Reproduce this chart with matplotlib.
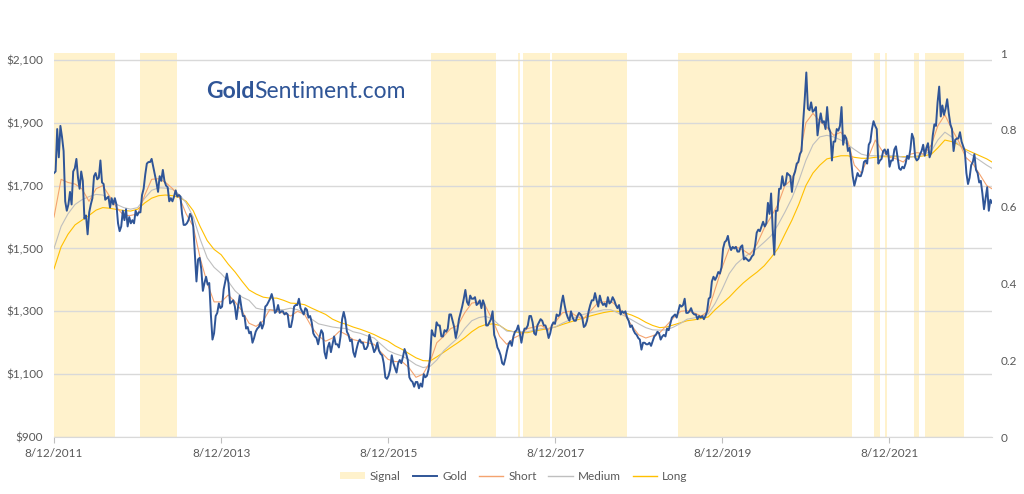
import matplotlib
matplotlib.use("Agg")
import matplotlib.pyplot as plt
import matplotlib.dates as mdates
import pandas as pd
from matplotlib.patches import Patch
from matplotlib.lines import Line2D
from matplotlib.ticker import FuncFormatter, FixedLocator

plt.rcParams['font.family'] = ['Lato', 'DejaVu Sans']

# ---------------- data ----------------
gold_start = '2011-08-12'   # weekly closes (Fridays)
gold_2011 = [1740, 1745, 1880, 1790, 1890, 1855, 1810, 1650, 1620, 1640, 1680, 1640, 1745, 1755,
             1785, 1725, 1690, 1745, 1715, 1595, 1605, 1545]
gold_2012 = [1615, 1640, 1660, 1730, 1740, 1720, 1725, 1780, 1710, 1705, 1655, 1660, 1665,
             1630, 1660, 1640, 1660, 1640, 1580, 1555, 1570, 1620, 1590, 1625, 1570, 1600,
             1580, 1590, 1580, 1620, 1605, 1615, 1615, 1670, 1690, 1735, 1770, 1775, 1775,
             1785, 1760, 1735, 1710, 1680, 1730, 1715, 1750, 1715, 1700, 1695, 1650, 1660]
gold_2013 = [1650, 1665, 1685, 1665, 1670, 1665, 1610, 1575, 1575, 1580, 1590, 1610, 1600,
             1570, 1480, 1395, 1465, 1470, 1435, 1365, 1390, 1410, 1385, 1390, 1290, 1210,
             1230, 1285, 1295, 1325, 1310, 1315, 1370, 1395, 1420, 1390, 1325, 1330, 1335,
             1315, 1275, 1315, 1350, 1315, 1285, 1285, 1245, 1250, 1230, 1235, 1200, 1215]
gold_2014 = [1235, 1245, 1250, 1265, 1245, 1260, 1315, 1320, 1330, 1340, 1355, 1335, 1295,
             1300, 1320, 1295, 1300, 1300, 1290, 1295, 1290, 1250, 1250, 1275, 1315, 1320,
             1320, 1340, 1310, 1300, 1290, 1310, 1305, 1280, 1285, 1265, 1230, 1220, 1215,
             1195, 1220, 1240, 1230, 1170, 1150, 1185, 1200, 1170, 1195, 1220, 1195, 1195]
gold_2015 = [1185, 1220, 1275, 1298, 1275, 1235, 1225, 1205, 1210, 1170, 1155, 1180, 1200,
             1210, 1200, 1200, 1180, 1180, 1190, 1225, 1205, 1190, 1170, 1180, 1200, 1175,
             1165, 1160, 1135, 1090, 1085, 1095, 1115, 1160, 1135, 1120, 1105, 1135, 1145,
             1135, 1155, 1180, 1165, 1145, 1090, 1080, 1075, 1060, 1075, 1075, 1055, 1070]
gold_2016 = [1060, 1100, 1090, 1095, 1115, 1155, 1240, 1225, 1220, 1265, 1255, 1255, 1220,
             1220, 1240, 1235, 1245, 1290, 1290, 1270, 1250, 1215, 1240, 1275, 1295, 1315,
             1340, 1368, 1330, 1320, 1350, 1340, 1340, 1345, 1320, 1325, 1335, 1310, 1335,
             1320, 1255, 1255, 1265, 1275, 1300, 1225, 1210, 1185, 1175, 1160, 1135, 1130, 1150]
gold_2017 = [1175, 1195, 1205, 1190, 1220, 1235, 1240, 1255, 1230, 1200, 1230, 1245, 1245,
             1255, 1285, 1285, 1265, 1230, 1225, 1255, 1265, 1275, 1270, 1255, 1255, 1240,
             1215, 1230, 1255, 1265, 1260, 1290, 1285, 1290, 1325, 1350, 1320, 1295, 1280,
             1270, 1300, 1280, 1270, 1270, 1285, 1295, 1290, 1280, 1250, 1255, 1270, 1300]
gold_2018 = [1320, 1335, 1335, 1358, 1335, 1315, 1350, 1330, 1320, 1325, 1315, 1345, 1325,
             1330, 1345, 1335, 1320, 1310, 1320, 1290, 1300, 1295, 1300, 1280, 1270, 1250,
             1255, 1240, 1230, 1225, 1215, 1210, 1178, 1200, 1200, 1195, 1195, 1200, 1190,
             1205, 1220, 1225, 1235, 1230, 1210, 1220, 1225, 1220, 1245, 1240, 1260, 1280]
gold_2019 = [1285, 1290, 1280, 1300, 1320, 1315, 1320, 1340, 1295, 1295, 1300, 1310, 1295,
             1290, 1290, 1275, 1285, 1280, 1285, 1275, 1285, 1300, 1340, 1345, 1395, 1410,
             1400, 1410, 1425, 1420, 1440, 1500, 1520, 1525, 1540, 1510, 1495, 1505, 1500,
             1505, 1490, 1490, 1505, 1510, 1465, 1470, 1465, 1460, 1465, 1475, 1480, 1510]
gold_2020 = [1550, 1560, 1555, 1570, 1585, 1570, 1580, 1645, 1610, 1675, 1560, 1480, 1620,
             1620, 1690, 1690, 1730, 1700, 1705, 1740, 1735, 1730, 1680, 1730, 1745, 1770,
             1775, 1800, 1810, 1900, 1975, 2060, 1945, 1940, 1965, 1935, 1940, 1950, 1860,
             1900, 1930, 1900, 1905, 1880, 1950, 1885, 1870, 1780, 1840, 1840, 1880, 1875]
gold_2021 = [1890, 1950, 1830, 1860, 1850, 1810, 1820, 1780, 1730, 1700, 1720, 1740, 1730,
             1730, 1745, 1775, 1780, 1770, 1830, 1840, 1880, 1905, 1890, 1880, 1770, 1780,
             1785, 1810, 1815, 1800, 1815, 1760, 1780, 1780, 1815, 1825, 1790, 1755, 1750,
             1760, 1755, 1770, 1795, 1785, 1815, 1865, 1850, 1790, 1780, 1785, 1800, 1810, 1830]
gold_2022 = [1795, 1820, 1835, 1790, 1805, 1860, 1895, 1890, 1965, 2015, 1920, 1955, 1925,
             1945, 1975, 1930, 1895, 1880, 1810, 1845, 1850, 1850, 1870, 1840, 1825, 1810,
             1740, 1705, 1725, 1765, 1775, 1800, 1750, 1740, 1710, 1715, 1675, 1625, 1660,
             1695, 1620, 1655, 1645]

ma_start = '2011-08-12'     # monthly readings of the moving averages
ma_last_date = '2022-11-04'
short_ma = [1600, 1720, 1710, 1705, 1690, 1650, 1690, 1700, 1665, 1630, 1605, 1605,
            1610, 1670, 1720, 1722, 1710, 1690, 1660, 1610, 1570, 1470, 1390, 1330,
            1330, 1352, 1330, 1300, 1262, 1252, 1270, 1305, 1300, 1294, 1285, 1300,
            1290, 1250, 1221, 1205, 1215, 1237, 1225, 1210, 1205, 1200, 1195, 1170,
            1147, 1140, 1140, 1120, 1090, 1100, 1140, 1200, 1221, 1245, 1255, 1295,
            1326, 1330, 1315, 1270, 1220, 1195, 1215, 1225, 1245, 1250, 1255, 1240,
            1265, 1295, 1300, 1285, 1275, 1300, 1325, 1330, 1332, 1315, 1290, 1255,
            1225, 1215, 1222, 1232, 1255, 1280, 1300, 1302, 1295, 1285, 1300, 1370,
            1440, 1500, 1505, 1495, 1480, 1515, 1565, 1600, 1640, 1700, 1720, 1780,
            1900, 1930, 1905, 1885, 1860, 1870, 1840, 1765, 1740, 1790, 1845, 1810,
            1790, 1785, 1775, 1800, 1805, 1800, 1830, 1890, 1925, 1880, 1840, 1790,
            1770, 1735, 1700, 1690]
medium_ma = [1500, 1570, 1610, 1640, 1655, 1665, 1672, 1670, 1655, 1640, 1630, 1625,
             1630, 1660, 1685, 1693, 1692, 1688, 1670, 1645, 1600, 1530, 1470, 1440,
             1420, 1395, 1365, 1345, 1335, 1310, 1305, 1305, 1305, 1305, 1310, 1305,
             1295, 1275, 1260, 1255, 1250, 1247, 1245, 1235, 1230, 1222, 1215, 1195,
             1175, 1165, 1158, 1145, 1130, 1121, 1125, 1145, 1175, 1195, 1215, 1245,
             1270, 1280, 1284, 1275, 1255, 1237, 1235, 1235, 1235, 1240, 1245, 1245,
             1250, 1262, 1272, 1282, 1290, 1295, 1300, 1305, 1305, 1295, 1285, 1273,
             1260, 1248, 1241, 1240, 1241, 1250, 1262, 1275, 1279, 1283, 1292, 1325,
             1370, 1420, 1450, 1470, 1485, 1500, 1520, 1540, 1575, 1615, 1660, 1715,
             1780, 1830, 1855, 1860, 1855, 1845, 1830, 1815, 1800, 1795, 1795, 1795,
             1795, 1795, 1790, 1790, 1795, 1800, 1810, 1845, 1870, 1855, 1830, 1810,
             1795, 1780, 1765, 1755]
long_ma = [1435, 1505, 1545, 1575, 1590, 1605, 1622, 1630, 1628, 1624, 1621, 1619,
           1625, 1645, 1660, 1668, 1670, 1668, 1662, 1650, 1620, 1570, 1525, 1497,
           1480, 1450, 1425, 1395, 1368, 1355, 1345, 1342, 1342, 1335, 1326, 1325,
           1321, 1310, 1300, 1290, 1275, 1265, 1258, 1250, 1243, 1235, 1226, 1215,
           1205, 1190, 1179, 1165, 1152, 1143, 1142, 1155, 1170, 1185, 1200, 1216,
           1235, 1250, 1258, 1260, 1255, 1240, 1235, 1232, 1232, 1237, 1241, 1245,
           1250, 1258, 1265, 1272, 1278, 1285, 1291, 1296, 1300, 1300, 1295, 1288,
           1278, 1265, 1255, 1248, 1250, 1257, 1264, 1270, 1273, 1277, 1282, 1305,
           1325, 1345, 1368, 1390, 1408, 1425, 1445, 1470, 1500, 1545, 1590, 1640,
           1700, 1740, 1765, 1785, 1790, 1795, 1795, 1790, 1787, 1787, 1790, 1792,
           1792, 1792, 1792, 1792, 1792, 1795, 1800, 1820, 1845, 1840, 1830, 1815,
           1805, 1795, 1785, 1775]

signal_start = ['2011-08-12', '2012-08-23', '2016-02-15', '2017-03-02', '2017-03-24',
                '2017-07-29', '2019-02-01', '2021-06-05', '2021-07-23', '2021-11-27',
                '2022-01-14']
signal_end = ['2012-05-05', '2013-02-01', '2016-11-26', '2017-03-11', '2017-07-20',
              '2018-06-23', '2021-02-28', '2021-07-01', '2021-08-01', '2021-12-19',
              '2022-07-04']

x_tick_dates = ['2011-08-12', '2013-08-12', '2015-08-12', '2017-08-12', '2019-08-12', '2021-08-12']
x_tick_labels = ['8/12/2011', '8/12/2013', '8/12/2015', '8/12/2017', '8/12/2019', '8/12/2021']
left_ticks = [900, 1100, 1300, 1500, 1700, 1900, 2100]
right_ticks = [0, 0.2, 0.4, 0.6, 0.8, 1]
right_labels = ['0', '0.2', '0.4', '0.6', '0.8', '1']

# ---------------- assemble ----------------
gold = (gold_2011 + gold_2012 + gold_2013 + gold_2014 + gold_2015 + gold_2016 +
        gold_2017 + gold_2018 + gold_2019 + gold_2020 + gold_2021 + gold_2022)
gold_dates = pd.date_range(gold_start, periods=len(gold), freq='7D')
ma_dates = list(pd.date_range(ma_start, periods=len(short_ma) - 1, freq=pd.DateOffset(months=1)))
ma_dates.append(pd.Timestamp(ma_last_date))

C_SIGNAL = '#FFF2CC'
C_GOLD = '#2F5597'
C_SHORT = '#F4A36F'
C_MED = '#BFBFBF'
C_LONG = '#FFC000'
C_TEXT = '#595959'
C_GRID = '#D9D9D9'

fig = plt.figure(figsize=(10.24, 4.94), dpi=100)
ax = fig.add_axes([54 / 1024, 1 - 437 / 494, 938 / 1024, 384 / 494])
ax2 = ax.twinx()
ax.set_zorder(ax2.get_zorder() + 1)
ax.patch.set_visible(False)

# signal bars on secondary axis
s0 = mdates.date2num(pd.to_datetime(signal_start))
s1 = mdates.date2num(pd.to_datetime(signal_end))
ax2.bar(s0, [1] * len(s0), width=s1 - s0, align='edge', color=C_SIGNAL, linewidth=0)
ax2.set_ylim(0, 1)
ax2.yaxis.set_major_locator(FixedLocator(right_ticks))
ax2.set_yticklabels(right_labels)
ax2.tick_params(axis='y', length=0, labelsize=8.5, labelcolor=C_TEXT, pad=6)

# lines
ax.plot(ma_dates, long_ma, color=C_LONG, lw=0.8, zorder=3)
ax.plot(ma_dates, medium_ma, color=C_MED, lw=0.8, zorder=3)
ax.plot(ma_dates, short_ma, color=C_SHORT, lw=0.8, zorder=4)
ax.plot(gold_dates, gold, color=C_GOLD, lw=1.4, zorder=5)

ax.set_ylim(900, 2122)
ax.set_xlim(gold_dates[0], gold_dates[-1])
ax.yaxis.set_major_locator(FixedLocator(left_ticks))
ax.yaxis.set_major_formatter(FuncFormatter(lambda v, p: '${:,.0f}'.format(v)))
ax.set_xticks(pd.to_datetime(x_tick_dates))
ax.set_xticklabels(x_tick_labels)
ax.yaxis.grid(True, color=C_GRID, lw=1.0)
ax.set_axisbelow(True)
ax.tick_params(axis='y', length=0, labelsize=8.5, labelcolor=C_TEXT, pad=8)
ax.tick_params(axis='x', length=4, color='#BFBFBF', labelsize=8.5, labelcolor=C_TEXT, pad=4)

for sp in ['top', 'left', 'right']:
    ax.spines[sp].set_visible(False)
ax.spines['bottom'].set_color(C_GRID)
for sp in ax2.spines.values():
    sp.set_visible(False)

# title
ty = 1 - 91 / 494
t1 = fig.text(206 / 1024, ty, 'Gold', fontsize=16.5, fontweight='bold', color=C_GOLD, va='center')
fig.canvas.draw()
bb = t1.get_window_extent()
fig.text(bb.x1 / fig.bbox.width, ty, 'Sentiment.com', fontsize=16.5, color=C_GOLD, va='center')

# legend
handles = [Patch(facecolor=C_SIGNAL, edgecolor='none'),
           Line2D([], [], color=C_GOLD, lw=1.4),
           Line2D([], [], color=C_SHORT, lw=1.0),
           Line2D([], [], color=C_MED, lw=1.0),
           Line2D([], [], color=C_LONG, lw=1.0)]
labels = ['Signal', 'Gold', 'Short', 'Medium', 'Long']
fig.legend(handles, labels, loc='center', bbox_to_anchor=(514 / 1024, 18 / 494), ncol=5,
           frameon=False, fontsize=8.5, handlelength=2.1, handleheight=0.5,
           columnspacing=1.0, handletextpad=0.4, labelcolor=C_TEXT)

fig.savefig('out.png', dpi=100)
